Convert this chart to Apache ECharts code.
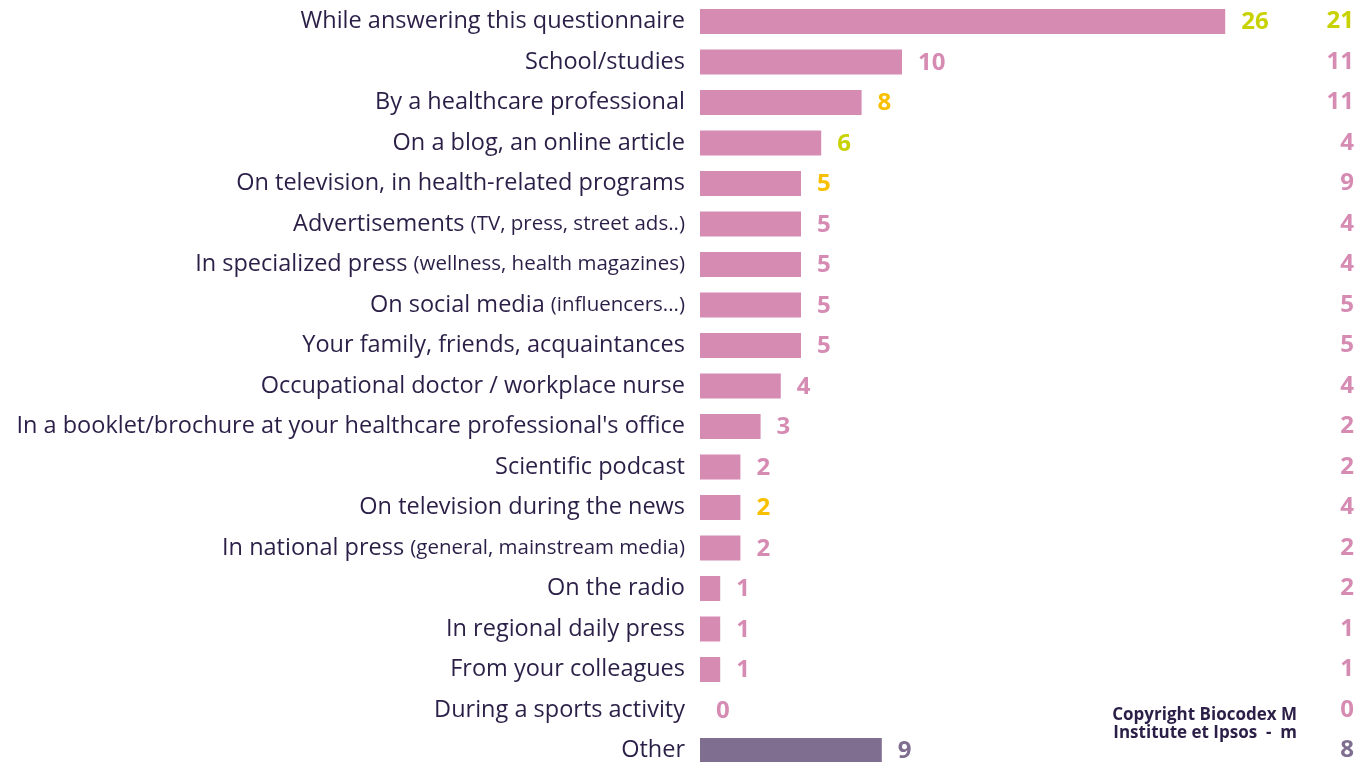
<!DOCTYPE html>
<html>
<head>
<meta charset="utf-8">
<script src="https://cdn.jsdelivr.net/npm/echarts@6/dist/echarts.min.js"></script>
<style>
html,body{margin:0;padding:0;background:#fff;}
#chart{width:1355px;height:762px;}
</style>
</head>
<body>
<div id="chart"></div>
<script>
var categories = [
  "While answering this questionnaire",
  "School/studies",
  "By a healthcare professional",
  "On a blog, an online article",
  "On television, in health-related programs",
  "Advertisements (TV, press, street ads..)",
  "In specialized press (wellness, health magazines)",
  "On social media (influencers...)",
  "Your family, friends, acquaintances",
  "Occupational doctor / workplace nurse",
  "In a booklet/brochure at your healthcare professional's office",
  "Scientific podcast",
  "On television during the news",
  "In national press (general, mainstream media)",
  "On the radio",
  "In regional daily press",
  "From your colleagues",
  "During a sports activity",
  "Other"
];
var values = [26, 10, 8, 6, 5, 5, 5, 5, 5, 4, 3, 2, 2, 2, 1, 1, 1, 0, 9];
var compareValues = [21, 11, 11, 4, 9, 4, 4, 5, 5, 4, 2, 2, 4, 2, 2, 1, 1, 0, 8];
var valueColorKeys = ["green","pink","yellow","green","yellow","pink","pink","pink","pink","pink","pink","pink","yellow","pink","pink","pink","pink","pink","purple"];
var compareColorKeys = ["green","pink","pink","pink","pink","pink","pink","pink","pink","pink","pink","pink","pink","pink","pink","pink","pink","pink","purple"];
var barColorKeys = ["pink","pink","pink","pink","pink","pink","pink","pink","pink","pink","pink","pink","pink","pink","pink","pink","pink","pink","purple"];
var copyrightLines = ["Copyright Biocodex M", "Institute et Ipsos  -  m"];

var palette = {
  pink: "#d68bb3",
  barPink: "#d68bb3",
  green: "#c8d200",
  yellow: "#f8c000",
  purple: "#7f6e8f",
  navy: "#2b1f47"
};

var FONT = "'Open Sans', 'Noto Sans', sans-serif";

var chart = echarts.init(document.getElementById('chart'), null, {renderer: 'canvas'});

var seriesData = values.map(function (v, i) {
  return {
    value: v,
    itemStyle: { color: barColorKeys[i] === 'purple' ? palette.purple : palette.barPink },
    label: { color: palette[valueColorKeys[i]] }
  };
});

var option = {
  animation: false,
  backgroundColor: '#ffffff',
  grid: {
    left: 700,
    top: 1.25,
    width: 606,
    height: 769.5,
    containLabel: false,
    outerBoundsMode: 'none'
  },
  xAxis: {
    type: 'value',
    min: 0,
    max: 30,
    show: false,
    splitLine: { show: false }
  },
  yAxis: [
    {
      type: 'category',
      data: categories,
      inverse: true,
      position: 'left',
      axisLine: { show: false },
      axisTick: { show: false },
      axisLabel: {
        margin: 15,
        color: palette.navy,
        fontFamily: FONT,
        fontSize: 23.5,
        formatter: function (val) {
          var k = val.indexOf(' (');
          if (k >= 0) {
            return '{m|' + val.slice(0, k) + '} {s|' + val.slice(k + 1) + '}';
          }
          return '{m|' + val + '}';
        },
        rich: {
          m: { fontFamily: FONT, fontSize: 23.5, color: palette.navy },
          s: { fontFamily: FONT, fontSize: 20.5, color: palette.navy }
        }
      }
    },
    {
      type: 'category',
      data: categories,
      inverse: true,
      position: 'right',
      axisLine: { show: false },
      axisTick: { show: false },
      axisLabel: {
        margin: 48,
        align: 'right',
        fontFamily: FONT,
        fontWeight: 'bold',
        fontSize: 24,
        formatter: function (val, idx) {
          return '{' + compareColorKeys[idx] + '|' + compareValues[idx] + '}';
        },
        rich: {
          green: { color: palette.green, fontWeight: 'bold', fontSize: 24, fontFamily: FONT },
          pink: { color: palette.pink, fontWeight: 'bold', fontSize: 24, fontFamily: FONT },
          purple: { color: palette.purple, fontWeight: 'bold', fontSize: 24, fontFamily: FONT },
          yellow: { color: palette.yellow, fontWeight: 'bold', fontSize: 24, fontFamily: FONT }
        }
      }
    }
  ],
  series: [
    {
      type: 'bar',
      yAxisIndex: 0,
      data: seriesData,
      barWidth: 25,
      label: {
        show: true,
        position: 'right',
        distance: 16,
        fontFamily: FONT,
        fontWeight: 'bold',
        fontSize: 24,
        offset: [0, 1]
      }
    }
  ],
  graphic: [
    {
      type: 'text',
      right: 1355 - 1297,
      top: 707,
      style: {
        text: copyrightLines[0],
        fill: palette.navy,
        font: "bold 17px " + FONT,
        textAlign: 'right'
      }
    },
    {
      type: 'text',
      right: 1355 - 1297,
      top: 725,
      style: {
        text: copyrightLines[1],
        fill: palette.navy,
        font: "bold 17px " + FONT,
        textAlign: 'right'
      }
    }
  ]
};

chart.setOption(option);
</script>
</body>
</html>
